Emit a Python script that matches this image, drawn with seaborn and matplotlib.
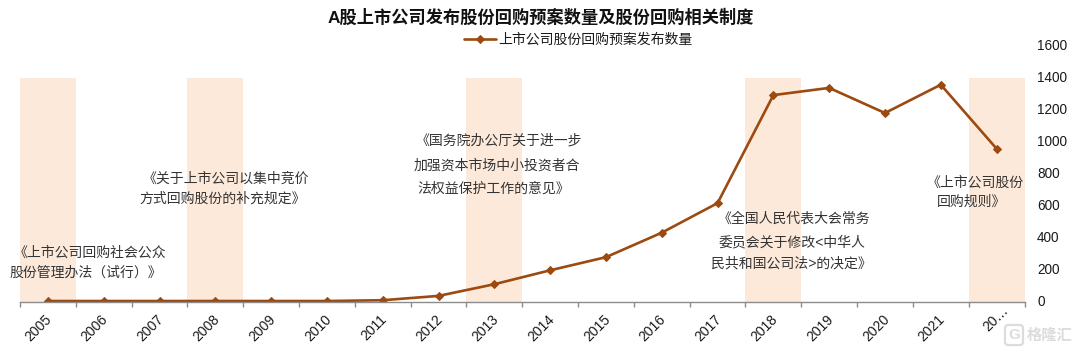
import numpy as np
import pandas as pd
import matplotlib
matplotlib.use("Agg")
import matplotlib.pyplot as plt
from matplotlib.transforms import ScaledTranslation
import seaborn as sns

years = ["2005", "2006", "2007", "2008", "2009", "2010", "2011", "2012", "2013",
         "2014", "2015", "2016", "2017", "2018", "2019", "2020", "2021", "2022"]
tick_labels = years[:-1] + ["20…"]
plan_counts = [3, 3, 3, 3, 3, 3, 8, 35, 108, 195, 277, 430, 615, 1290, 1335, 1178, 1355, 955]
band_years = ["2005", "2008", "2013", "2018", "2022"]
band_height = 1400
series_name = "上市公司股份回购预案发布数量"
title = "A股上市公司发布股份回购预案数量及股份回购相关制度"
y_ticks = [0, 200, 400, 600, 800, 1000, 1200, 1400, 1600]

# line text, centre x (px), centre y (px)
notes = [
    ("《上市公司回购社会公众", 90, 253),
    ("股份管理办法\uff08试行\uff09》", 86, 273),
    ("《关于上市公司以集中竞价", 226, 179),
    ("方式回购股份的补充规定》", 223, 199),
    ("《国务院办公厅关于进一步", 499, 141),
    ("加强资本市场中小投资者合", 497, 166),
    ("法权益保护工作的意见》", 494, 189),
    ("《全国人民代表大会常务", 794, 219),
    ("委员会关于修改<中华人", 792, 242),
    ("民共和国公司法>的决定》", 791, 263),
    ("《上市公司股份", 975, 183),
    ("回购规则》", 972, 202),
]

sns.set_theme(style="white")
plt.rcParams["font.family"] = ["Liberation Sans", "Noto Sans CJK SC", "DejaVu Sans"]

W, H = 1080, 352
fig = plt.figure(figsize=(W / 100, H / 100), dpi=100, facecolor="white")
ax = fig.add_axes([20 / W, 1 - 301.5 / H, 1004.5 / W, 256 / H])

bands = [band_height if y in band_years else 0 for y in years]
df = pd.DataFrame({"year": years, "band": bands, "count": plan_counts, "pos": np.arange(len(years))})
sns.barplot(data=df, x="year", y="band", color="#FDE9DA", saturation=1, width=1.0, ax=ax, legend=False)
for p in ax.patches:
    p.set_edgecolor("none")
sns.lineplot(data=df, x="pos", y="count", color="#9C4A0F", linewidth=1.9, marker="D",
             markersize=4.2, markeredgecolor="#9C4A0F", label=series_name, ax=ax, legend=False)

ax.set_xlim(-0.5, len(years) - 0.5)
ax.set_ylim(0, 1600)
ax.set_xlabel("")
ax.set_ylabel("")

ax.set_xticks(np.arange(len(years) + 1) - 0.5)
ax.set_xticklabels([])
ax.set_xticks(np.arange(len(years)), minor=True)
ax.set_xticklabels(tick_labels, minor=True, rotation=45, ha="center", va="center",
                   fontsize=10, color="#1a1a1a", rotation_mode="anchor")
ax.tick_params(axis="x", which="major", length=3.5, width=1, color="#8c8c8c", direction="out", bottom=True)
ax.tick_params(axis="x", which="minor", length=0, pad=19)
minor_labels = ax.get_xticklabels(minor=True)
for i, lab in enumerate(minor_labels):
    dx, dy = (-1, 9) if i == len(minor_labels) - 1 else (-9, 0)
    lab.set_transform(lab.get_transform() + ScaledTranslation(dx / 100, dy / 100, fig.dpi_scale_trans))

ax.yaxis.tick_right()
ax.set_yticks(y_ticks)
ax.set_yticklabels([str(v) for v in y_ticks], fontsize=9.8, color="#1a1a1a", ha="left")
ax.tick_params(axis="y", length=0, pad=9)
for lab in ax.get_yticklabels():
    lab.set_transform(lab.get_transform() + ScaledTranslation(0, 1 / 100, fig.dpi_scale_trans))

for s in ["top", "left", "right"]:
    ax.spines[s].set_visible(False)
ax.spines["bottom"].set_color("#8c8c8c")
ax.spines["bottom"].set_linewidth(1)
ax.grid(False)

fig.text(541 / W, 1 - 17 / H, title, ha="center", va="center", fontsize=12.4,
         fontweight="bold", color="#111111")

handles, labels = ax.get_legend_handles_labels()
fig.legend(handles, labels, loc="center", bbox_to_anchor=(578 / W, 1 - 40 / H), frameon=False,
           fontsize=10, handlelength=2.3, handletextpad=0.15, labelcolor="#1a1a1a",
           borderpad=0, borderaxespad=0)

for text, x, y in notes:
    fig.text(x / W, 1 - y / H, text, ha="center", va="center", fontsize=10,
             style="italic", color="#333333")

fig.text(1050 / W, 1 - 336 / H, "格隆汇", ha="center", va="center", fontsize=11,
         color="#dcdcdc", fontweight="bold")
fig.text(1014 / W, 1 - 335 / H, "G", ha="center", va="center", fontsize=11, color="#dcdcdc",
         fontweight="bold", bbox=dict(boxstyle="round,pad=0.2", fc="none", ec="#dcdcdc", lw=1.6))

fig.savefig("out.png", dpi=100, facecolor="white")
